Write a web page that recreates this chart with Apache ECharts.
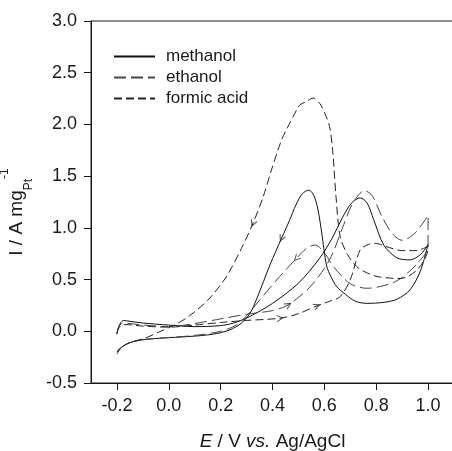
<!DOCTYPE html>
<html>
<head>
<meta charset="utf-8">
<script src="https://cdn.jsdelivr.net/npm/echarts@6/dist/echarts.min.js"></script>
<style>
html,body{margin:0;padding:0;background:#fff;}
#chart{width:452px;height:451px;}
</style>
</head>
<body>
<div id="chart"></div>
<script>
// ---- data ----
const seriesNames = ['methanol', 'ethanol', 'formic acid'];
const xTicks = [-0.2, 0.0, 0.2, 0.4, 0.6, 0.8, 1.0];
const yTicks = [-0.5, 0.0, 0.5, 1.0, 1.5, 2.0, 2.5, 3.0];

// [E (V), I (A/mg)] in scan order: forward then reverse
const methanol = [
  [-0.2,-0.03],[-0.195,0.03],[-0.185,0.085],[-0.175,0.105],[-0.16,0.1],[-0.1,0.08],[0.0,0.06],[0.1,0.045],
  [0.2,0.055],[0.25,0.08],[0.31,0.14],[0.4,0.27],[0.5,0.465],[0.58,0.7],[0.63,0.9],[0.67,1.1],[0.705,1.24],
  [0.738,1.29],[0.765,1.24],[0.79,1.08],[0.83,0.83],[0.88,0.71],[0.93,0.69],[0.97,0.74],[1.0,0.84],
  [0.97,0.58],[0.93,0.4],[0.88,0.31],[0.83,0.28],[0.765,0.27],[0.72,0.29],[0.68,0.36],[0.648,0.43],
  [0.625,0.53],[0.609,0.63],[0.598,0.8],[0.59,0.95],[0.575,1.18],[0.56,1.31],[0.54,1.365],[0.515,1.33],
  [0.49,1.22],[0.467,1.08],[0.435,0.9],[0.39,0.64],[0.34,0.32],[0.31,0.16],[0.27,0.06],[0.22,0.0],
  [0.15,-0.035],[0.05,-0.055],[-0.05,-0.07],[-0.12,-0.09],[-0.16,-0.12],[-0.185,-0.16],[-0.2,-0.2]
];
const ethanol = [
  [-0.2,-0.02],[-0.195,0.03],[-0.185,0.07],[-0.175,0.08],[-0.15,0.075],[-0.1,0.06],[0.0,0.045],[0.1,0.075],
  [0.2,0.12],[0.3,0.165],[0.4,0.2],[0.46,0.255],[0.545,0.43],[0.62,0.69],[0.67,1.0],[0.71,1.24],[0.755,1.36],
  [0.785,1.31],[0.82,1.12],[0.86,0.95],[0.9,0.88],[0.95,0.95],[1.0,1.12],
  [1.0,0.82],[0.96,0.66],[0.9,0.52],[0.854,0.46],[0.8,0.425],[0.764,0.416],[0.7,0.46],[0.635,0.625],
  [0.6,0.76],[0.564,0.835],[0.53,0.8],[0.493,0.706],[0.45,0.59],[0.416,0.496],[0.351,0.303],[0.3,0.15],
  [0.26,0.06],[0.2,0.0],[0.1,-0.04],[0.0,-0.06],[-0.1,-0.08],[-0.15,-0.11],[-0.18,-0.15],[-0.2,-0.19]
];
const formicAcid = [
  [-0.2,-0.02],[-0.195,0.02],[-0.185,0.055],[-0.17,0.065],[-0.1,0.05],[0.0,0.04],[0.1,0.06],[0.2,0.085],
  [0.3,0.105],[0.428,0.126],[0.5,0.17],[0.57,0.245],[0.62,0.29],[0.661,0.335],[0.7,0.5],[0.738,0.786],
  [0.77,0.84],[0.796,0.85],[0.85,0.81],[0.9,0.78],[0.95,0.78],[1.0,0.82],
  [1.0,0.8],[0.96,0.6],[0.893,0.51],[0.85,0.515],[0.803,0.53],[0.76,0.57],[0.725,0.625],[0.69,0.74],
  [0.661,0.915],[0.645,1.3],[0.632,1.75],[0.62,1.98],[0.603,2.1],[0.583,2.2],[0.557,2.255],[0.53,2.22],
  [0.506,2.19],[0.493,2.14],[0.454,1.95],[0.435,1.85],[0.396,1.56],[0.364,1.3],[0.325,1.045],[0.28,0.8],
  [0.22,0.52],[0.15,0.3],[0.08,0.15],[0.03,0.07],[0.0,0.035],[-0.04,-0.01],[-0.09,-0.065],[-0.15,-0.11],
  [-0.18,-0.15],[-0.2,-0.22]
];
// scan-direction arrowheads: [E, I, screen direction in degrees (CCW from +x)]
const arrows = [
  [0.325,1.045,-113.6],[0.435,0.9,-114.2],[0.493,0.706,-133.1],
  [0.46,0.254,32.4],[0.428,0.126,6.8],[0.57,0.245,21.8]
];

const chart = echarts.init(document.getElementById('chart'), null, {renderer:'canvas'});
const FONT = '"Liberation Sans", Arial, Helvetica, sans-serif';
const INK = '#1a1a1a';

function lineSeries(name, data, type, color) {
  return {
    name, type:'line', data, smooth:0.3, showSymbol:false, symbol:'none',
    lineStyle:{color, width:1, type}, itemStyle:{color}, z:3, animation:false
  };
}

chart.setOption({
  animation:false,
  backgroundColor:'#fff',
  grid:{left:91, top:21, right:-2, bottom:68, show:true, borderColor:INK, borderWidth:1,
        containLabel:false, outerBoundsMode:'none'},
  legend:{
    data:seriesNames, orient:'vertical', left:108, top:43, itemWidth:41, itemHeight:14, itemGap:4,
    itemStyle:{opacity:0},
    textStyle:{fontFamily:FONT, fontSize:17, color:INK, padding:[0,0,0,6]}
  },
  xAxis:{
    type:'value', min:-0.3, max:1.1,
    splitLine:{show:false},
    axisLine:{show:true, onZero:false, lineStyle:{color:INK, width:1}},
    axisTick:{show:true, inside:false, length:7, lineStyle:{color:INK}, customValues:xTicks},
    axisLabel:{customValues:xTicks, formatter:v=>v.toFixed(1), fontFamily:FONT, fontSize:18, color:INK, margin:14},
    name:'{i|E} / V {i|vs.} Ag/AgCl', nameLocation:'middle', nameGap:49,
    nameTextStyle:{fontFamily:FONT, fontSize:19, color:INK, rich:{i:{fontStyle:'italic', fontFamily:FONT, fontSize:19, color:INK}}}
  },
  yAxis:{
    type:'value', min:-0.5, max:3.0, interval:0.5,
    splitLine:{show:false},
    axisLine:{show:true, onZero:false, lineStyle:{color:INK, width:1}},
    axisTick:{show:true, inside:false, length:7, lineStyle:{color:INK}},
    axisLabel:{formatter:v=>v.toFixed(1), fontFamily:FONT, fontSize:18, color:INK, margin:14},
    name:'{m|I / A mg}{s|Pt}{p|-1}', nameLocation:'middle', nameGap:54, nameRotate:90,
    nameTextStyle:{fontFamily:FONT, fontSize:19, color:INK,
      rich:{
        m:{fontFamily:FONT, fontSize:19, color:INK, lineHeight:36},
        s:{fontFamily:FONT, fontSize:12, color:INK, lineHeight:12, verticalAlign:'bottom'},
        p:{fontFamily:FONT, fontSize:12, color:INK, lineHeight:20, verticalAlign:'top', padding:[0,20,0,0]}
      }}
  },
  series:[
    lineSeries('methanol', methanol, 'solid', '#111'),
    lineSeries('ethanol', ethanol, [12,5], '#444'),
    lineSeries('formic acid', formicAcid, [8,4], '#222'),
    {
      name:'arrows', type:'scatter', data:arrows, z:4, silent:true,
      symbol:'path://M0,8 L4,0 L8,8', symbolSize:[6,6],
      symbolRotate:(d)=>d[2]-90,
      itemStyle:{color:'rgba(0,0,0,0)', borderColor:'#222', borderWidth:1}
    }
  ]
});
</script>
</body>
</html>
